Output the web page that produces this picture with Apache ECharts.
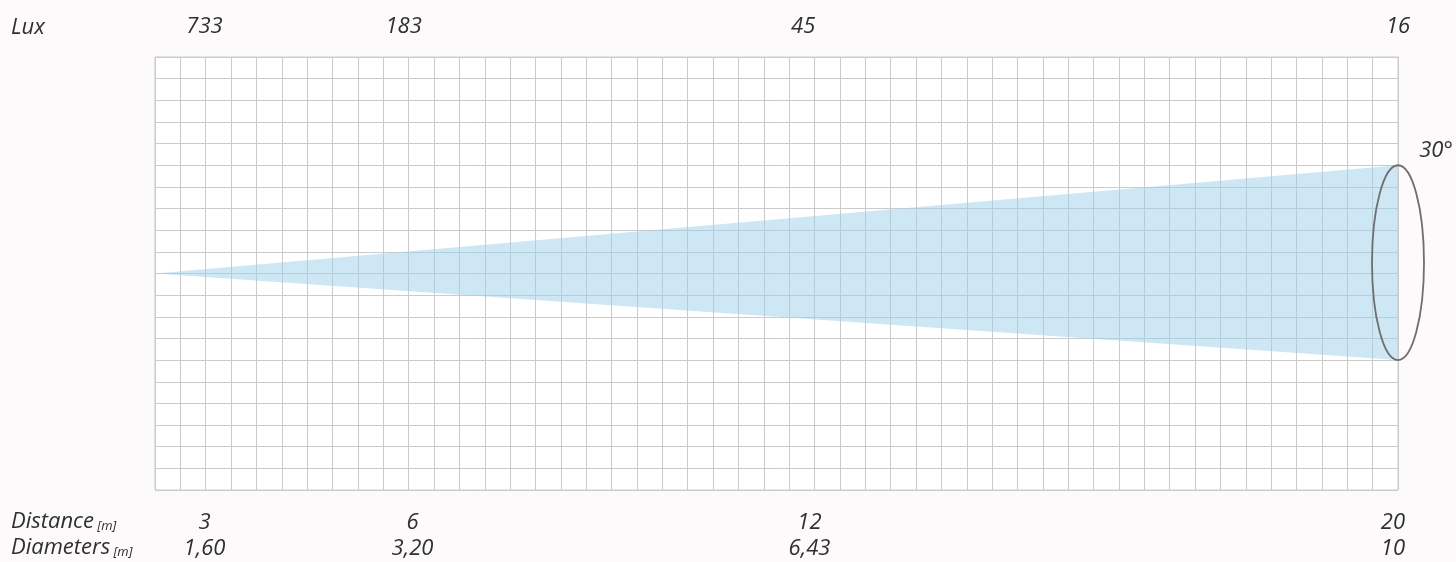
<!DOCTYPE html>
<html>
<head>
<meta charset="utf-8">
<script src="https://cdn.jsdelivr.net/npm/echarts@6/dist/echarts.min.js"></script>
<style>
html,body{margin:0;padding:0;background:#fcfafb;}
#c{width:1456px;height:562px;}
</style>
</head>
<body>
<div id="c"></div>
<script>
// ---- data ----
const gridCols = 49;           // grid cells along the beam
const gridHalfRows = 10;       // grid cells above / below the beam axis
const luxValues = ['733', '183', '45', '16'];
const distanceValues = ['3', '6', '12', '20'];
const diameterValues = ['1,60', '3,20', '6,43', '10'];
const luxCols = [1.95, 9.8, 25.55, 49];          // grid column of each lux label
const bottomCols = [1.95, 10.15, 25.8, 48.8];    // grid column of each distance / diameter label
const beamApex = [0, 0];
const beamEndTop = [49, 5];
const beamEndBottom = [49, -4];
const beamAngle = '30°';

// ---- chart ----
const chart = echarts.init(document.getElementById('c'), null, {renderer: 'canvas'});
const FONT = 'italic 22px "Open Sans", "DejaVu Sans", sans-serif';
const SMALL = 'italic 13px "Open Sans", "DejaVu Sans", sans-serif';
const TXT = '#2f2f2f';

function labelSeries(cols, texts, dy, name) {
  return {
    type: 'custom', name: name, clip: false, silent: true, z: 5,
    data: cols.map((c, i) => [c, i]),
    renderItem: function (params, api) {
      const p = api.coord([api.value(0), dy > 0 ? -gridHalfRows : gridHalfRows]);
      return {
        type: 'text',
        x: p[0], y: p[1] + dy,
        style: {text: texts[api.value(1)], fill: TXT, font: FONT, align: 'center', verticalAlign: 'middle'}
      };
    }
  };
}

const option = {
  backgroundColor: '#fcfafb',
  animation: false,
  grid: {left: 155, right: 58, top: 57, bottom: 72, show: true, backgroundColor: '#ffffff', borderColor: '#cbcbcb', borderWidth: 1},
  xAxis: {
    type: 'value', min: 0, max: gridCols, interval: 1,
    axisLine: {show: false}, axisTick: {show: false}, axisLabel: {show: false},
    splitLine: {show: true, lineStyle: {color: '#cbcbcb', width: 1}}
  },
  yAxis: {
    type: 'value', min: -gridHalfRows, max: gridHalfRows, interval: 1,
    axisLine: {show: false}, axisTick: {show: false}, axisLabel: {show: false},
    splitLine: {show: true, lineStyle: {color: '#cbcbcb', width: 1}}
  },
  graphic: [
    {type: 'text', left: 11, top: 17, style: {text: 'Lux', fill: TXT, font: FONT}},
    {type: 'text', left: 11, top: 511, style: {
      text: '{a|Distance} {b|[m]}', fill: TXT,
      rich: {a: {font: FONT, fill: TXT}, b: {font: SMALL, fill: TXT, verticalAlign: 'bottom'}}
    }},
    {type: 'text', left: 11, top: 537, style: {
      text: '{a|Diameters} {b|[m]}', fill: TXT,
      rich: {a: {font: FONT, fill: TXT}, b: {font: SMALL, fill: TXT, verticalAlign: 'bottom'}}
    }}
  ],
  series: [
    {
      type: 'custom', name: 'beam', clip: false, silent: true, z: 2,
      data: [beamApex.concat(beamEndTop, beamEndBottom)],
      renderItem: function (params, api) {
        const a = api.coord([api.value(0), api.value(1)]);
        const t = api.coord([api.value(2), api.value(3)]);
        const b = api.coord([api.value(4), api.value(5)]);
        return {type: 'polygon', shape: {points: [a, t, b]}, style: {fill: 'rgba(155,208,234,0.5)'}};
      }
    },
    {
      type: 'custom', name: 'spot', clip: false, silent: true, z: 3,
      data: [beamEndTop.concat(beamEndBottom)],
      renderItem: function (params, api) {
        const t = api.coord([api.value(0), api.value(1)]);
        const b = api.coord([api.value(2), api.value(3)]);
        const cx = (t[0] + b[0]) / 2, cy = (t[1] + b[1]) / 2;
        const ry = Math.abs(b[1] - t[1]) / 2, rx = 26;
        const d = 'M' + (cx - rx) + ' ' + cy +
          ' A' + rx + ' ' + ry + ' 0 1 0 ' + (cx + rx) + ' ' + cy +
          ' A' + rx + ' ' + ry + ' 0 1 0 ' + (cx - rx) + ' ' + cy + ' Z';
        return {
          type: 'group',
          children: [
            {type: 'path', shape: {pathData: d}, style: {fill: 'none', stroke: '#6f6f6f', lineWidth: 1.8}},
            {type: 'text', x: t[0] + 38, y: t[1] - 15,
             style: {text: beamAngle, fill: TXT, font: FONT, align: 'center', verticalAlign: 'middle'}}
          ]
        };
      }
    },
    labelSeries(luxCols, luxValues, -30, 'lux'),
    labelSeries(bottomCols, distanceValues, 33, 'distance'),
    labelSeries(bottomCols, diameterValues, 59, 'diameter')
  ]
};
chart.setOption(option);
</script>
</body>
</html>
